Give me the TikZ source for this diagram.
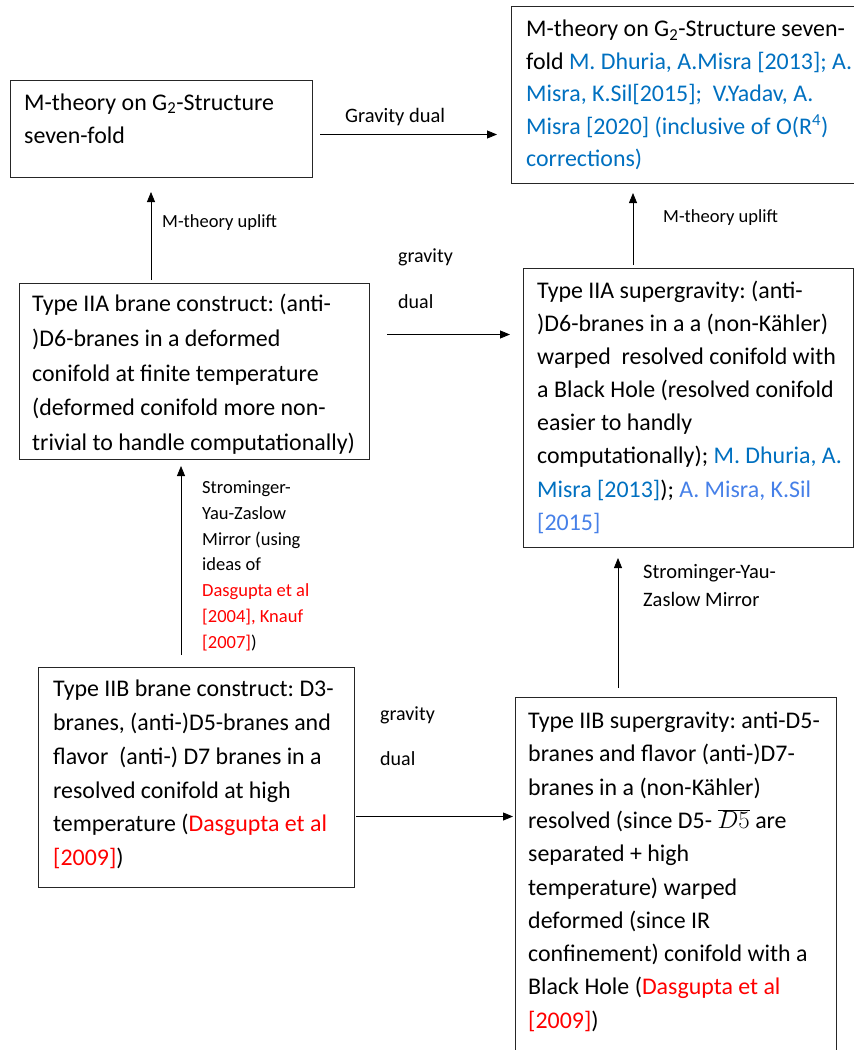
\documentclass[tikz,border=0pt]{standalone}
\usepackage{fontspec}
\setmainfont{Carlito}
\usetikzlibrary{arrows.meta}
\definecolor{refblue}{RGB}{0,112,192}
\definecolor{refblueb}{RGB}{70,128,232}
\definecolor{refred}{RGB}{255,0,0}
\begin{document}
\begin{tikzpicture}[x=1pt,y=-1pt,
  box/.style={draw=black!85, line width=1pt, inner sep=0pt, anchor=north west},
  boxtext/.style={anchor=north west, inner sep=0pt, align=left, font={\fontsize{23.9}{#1}\selectfont\frenchspacing}},
  lbl/.style 2 args={anchor=north west, inner sep=0pt, align=left, font={\fontsize{#1}{#2}\selectfont\frenchspacing}},
  arr/.style={line width=0.8pt, -{Triangle[length=10pt,width=8pt]}},
]
\useasboundingbox (0,0) rectangle (854,1050);

% boxes
\node[box, minimum width=302, minimum height=97]  (A) at (10,80) {};
\node[box, minimum width=360, minimum height=177] (B) at (511,6) {};
\node[box, minimum width=350, minimum height=176] (C) at (19,283) {};
\node[box, minimum width=330, minimum height=279] (D) at (523,268) {};
\node[box, minimum width=316, minimum height=220] (E) at (38,667) {};
\node[box, minimum width=321, minimum height=400] (F) at (515,697) {};

% box texts
\node[boxtext=33] (At) at (24,86.9) {\strut M-theory on G\textsubscript{2}-Structure\\ seven-fold};
\node[boxtext=32.5] (Bt) at (526,13.9) {\strut M-theory on G\textsubscript{2}-Structure seven-\\
fold \textcolor{refblue}{M. Dhuria, A.Misra [2013]; A.}\\
\textcolor{refblue}{Misra, K.Sil[2015];\ \ V.Yadav, A.}\\
\textcolor{refblue}{Misra [2020] (inclusive of O(R\textsuperscript{4})}\\
\textcolor{refblue}{corrections)}};
\node[boxtext=34.6] (Ct) at (32,287.5) {\strut Type IIA brane construct: (anti-\\
)D6-branes in a deformed\\
conifold at finite temperature\\
(deformed conifold more non-\\
trivial to handle computationally)};
\node[boxtext=33.1] (Dt) at (537,275.1) {\strut Type IIA supergravity: (anti-\\
)D6-branes in a a (non-Kähler)\\
warped\ \ resolved conifold with\\
a Black Hole (resolved conifold\\
easier to handly\\
computationally); \textcolor{refblue}{M. Dhuria, A.}\\
\textcolor{refblue}{Misra [2013]}); \textcolor{refblueb}{A. Misra, K.Sil}\\
\textcolor{refblueb}{[2015]}};
\node[boxtext=33.7] (Et) at (53,673.1) {\strut Type IIB brane construct: D3-\\
branes, (anti-)D5-branes and\\
flavor\ \ (anti-) D7 branes in a\\
resolved conifold at high\\
temperature (\textcolor{refred}{Dasgupta et al}\\
\textcolor{refred}{[2009]})};
\node[boxtext=33.3] (Ft) at (528,705) {\strut Type IIB supergravity: anti-D5-\\
branes and flavor (anti-)D7-\\
branes in a (non-Kähler)\\
resolved (since D5- $\overline{D5}$ are\\
separated + high\\
temperature) warped\\
deformed (since IR\\
confinement) conifold with a\\
Black Hole (\textcolor{refred}{Dasgupta et al}\\
\textcolor{refred}{[2009]})};

% connectors
\draw[arr] ([shift={(7,5.5)}]A.east) -- ([shift={(-14,5.5)}]A.east -| B.west);
\draw[arr] ([shift={(132,-3)}]C.north west) -- ([shift={(132,14)}]C.north west |- A.south);
\draw[arr] ([shift={(110,-3)}]D.north west) -- ([shift={(110,9)}]D.north west |- B.south);
\draw[arr] ([shift={(17,-37)}]C.east) -- ([shift={(-13,-37)}]C.east -| D.west);
\draw[arr] ([shift={(143,-12)}]E.north west) -- ([shift={(143,6)}]E.north west |- C.south);
\draw[arr] ([shift={(103,-9)}]F.north west) -- ([shift={(103,10)}]F.north west |- D.south);
\draw[arr] ([shift={(1,39)}]E.east) -- ([shift={(-2,39)}]E.east -| F.west);

% labels
\node[lbl={20.5}{25}] (l1) at (345,105.2) {\strut Gravity dual};
\node[lbl={18.5}{25}] (l2) at (162,210.2) {\strut M-theory uplift};
\node[lbl={18.5}{25}] (l3) at (663,204.8) {\strut M-theory uplift};
\node[lbl={20}{46}] (l4) at (398,229.8) {\strut gravity\\ dual};
\node[lbl={20}{45}] (l5) at (380,688.5) {\strut gravity\\ dual};
\node[lbl={18.5}{25.8}] (l6) at (202,475.2) {\strut Strominger-\\ Yau-Zaslow\\ Mirror (using\\ ideas of\\
\textcolor{refred}{Dasgupta et al}\\ \textcolor{refred}{[2004], Knauf}\\ \textcolor{refred}{[2007]})};
\node[lbl={20.5}{28.3}] (l7) at (643,558.5) {\strut Strominger-Yau-\\ Zaslow Mirror};
\end{tikzpicture}
\end{document}
